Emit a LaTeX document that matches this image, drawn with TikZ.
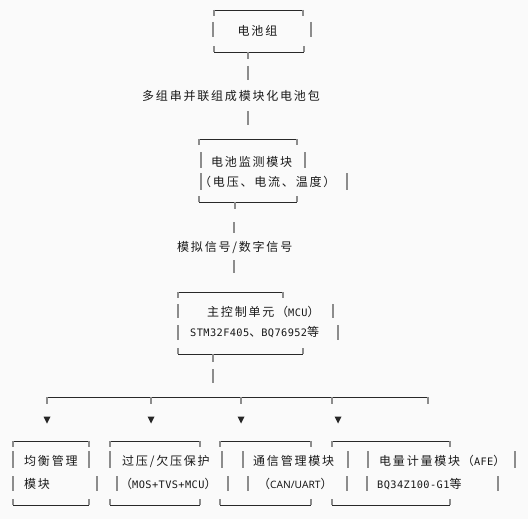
\documentclass[tikz,border=0pt]{standalone}
\usepackage{fontspec}
\newfontfamily\cjkf[LetterSpace=15]{Noto Sans CJK SC}
\newfontfamily\monof[LetterSpace=4]{DejaVu Sans Mono}
\newfontfamily\sansf{Noto Sans}
\newcommand\cjk{\cjkf\fontsize{12}{14}\selectfont}
\newcommand\mon{\monof\fontsize{10.3}{14}\selectfont}
\newcommand\sns{\sansf\fontsize{10.2}{14}\selectfont}
\definecolor{hlc}{RGB}{40,40,40}
\definecolor{vbc}{RGB}{140,140,140}
\definecolor{bgc}{RGB}{250,250,250}
\tikzset{
  hl/.style={draw=hlc,line width=0.9pt},
  vb/.style={draw=vbc,line width=1.1pt},
  txt/.style={anchor=west,inner sep=0pt,font=\cjk,text=black!90},
  tri/.style={fill=black!85},
}
\newcommand\tbox[5]{%
  \draw[hl] (#1,#4) -- (#2,#4);
  \draw[vb] (#1,#4) -- ++(0,6);
  \draw[vb] (#2,#4) -- ++(0,6);
  \draw[hl] (#1,#5) -- (#3,#5);
  \draw[vb] (#1,#5) -- ++(0,-6);
  \draw[vb] (#3,#5) -- ++(0,-6);}
\newcommand\vbar[3]{\draw[vb] (#1,#2) -- (#1,#3);}
\newcommand\arr[1]{\fill[tri] (#1-3.5,416.5) -- (#1+3.5,416.5) -- (#1,423.5) -- cycle;}
\begin{document}
\begin{tikzpicture}[x=1pt,y=-1pt]
\fill[bgc] (0,0) rectangle (528,519);
\useasboundingbox (0,0) rectangle (528,519);
% Box 1
\tbox{214}{303}{304}{10}{52}
\vbar{213}{22}{37}\vbar{311}{22}{37}
\node[txt] (b1) at (237.5,31) {电池组};
\vbar{248}{52}{59}
\vbar{248}{66}{80}
\node[txt] (l1) at (142,96) {多组串并联组成模块化电池包};
\vbar{248}{111}{125}
% Box 2
\tbox{199}{297}{297}{139}{202}
\vbar{201}{152}{168}\vbar{305}{152}{168}
\node[txt] (b2a) at (211,162) {电池监测模块};
\vbar{201}{173}{190}\vbar{347}{173}{190}
\node[txt] (b2b) at (199,182) {（电压、电流、温度）};
\vbar{235}{202}{209}
\vbar{234}{222}{233}
\node[txt] (l2) at (177,247) {模拟信号/数字信号};
\vbar{234}{260}{273}
% Box 3
\tbox{178}{283}{303}{292}{354}
\vbar{178}{304}{318}\vbar{333}{304}{318}
\node[txt] (b3a) at (207,312) {主控制单元（{\mon MCU}）};
\vbar{178}{325}{340}\vbar{338}{325}{340}
\node[txt] (b3b) at (190,332) {{\mon STM32F405}、{\mon BQ76952}等};
\vbar{213}{354}{362}
\vbar{213}{369}{383}
% Branch
\draw[hl] (47,397) -- (428,397);
\foreach \x in {47,151,241,332,428} {\draw[vb] (\x,397) -- ++(0,7);}
\arr{47}\arr{151}\arr{241}\arr{338}
% Box A
\tbox{13}{89}{89}{441}{505}
\vbar{13}{451}{468}\vbar{89}{451}{468}
\node[txt] (ba1) at (24,461) {均衡管理};
\vbar{13}{476}{491}\vbar{97}{476}{491}
\node[txt] (ba2) at (24,484) {模块};
% Box B
\tbox{110}{200}{200}{441}{505}
\vbar{110}{451}{468}\vbar{222}{451}{468}
\node[txt] (bb1) at (122,461) {过压/欠压保护};
\vbar{117}{476}{491}\vbar{228}{476}{491}
\node[txt] (bb2) at (120,484) {（{\mon MOS+TVS+MCU}）};
% Box C
\tbox{220}{311}{311}{441}{505}
\vbar{243}{451}{468}\vbar{348}{451}{468}
\node[txt] (bc1) at (253,461) {通信管理模块};
\vbar{248}{476}{491}\vbar{347}{476}{491}
\node[txt] (bc2) at (258,484) {（{\sns CAN/UART}）};
% Box D
\tbox{332}{450}{450}{441}{505}
\vbar{368}{451}{468}\vbar{515}{451}{468}
\node[txt] (bd1) at (379,461) {电量计量模块（{\mon AFE}）};
\vbar{367}{476}{491}\vbar{498}{476}{491}
\node[txt] (bd2) at (377,484) {{\mon BQ34Z100-G1}等};
\end{tikzpicture}
\end{document}
